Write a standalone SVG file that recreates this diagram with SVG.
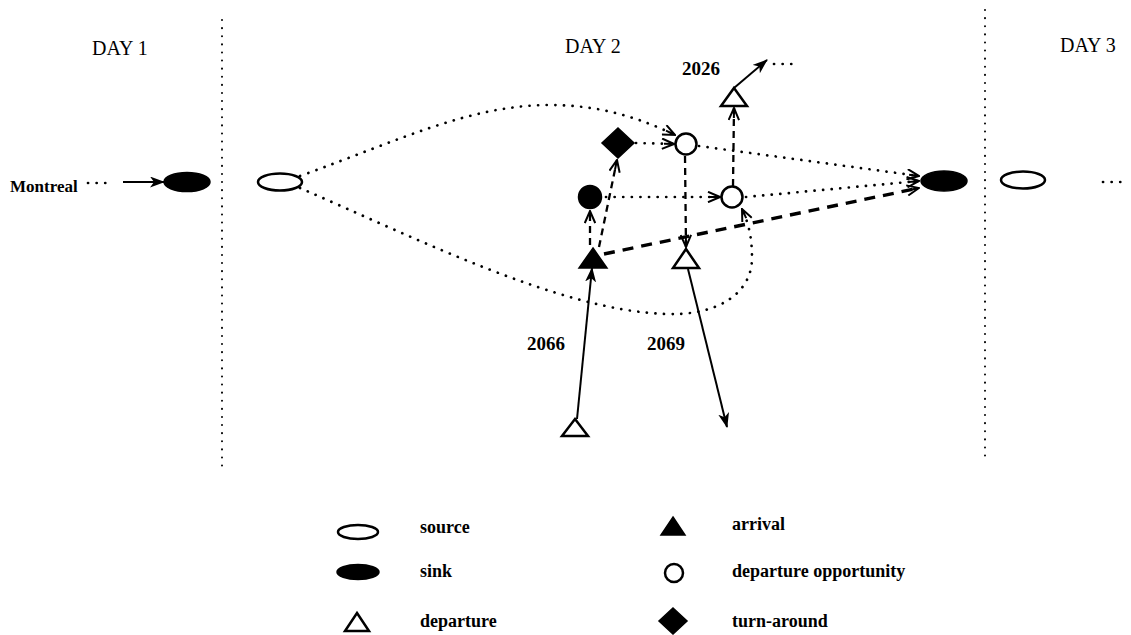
<svg xmlns="http://www.w3.org/2000/svg" width="1131" height="635" viewBox="0 0 1131 635">
  <style>
    .bg { fill: #ffffff; }
    .day { font-family: "Liberation Serif", "DejaVu Serif", serif; font-size: 20px; fill: #000; }
    .lbl { font-family: "Liberation Serif", "DejaVu Serif", serif; font-size: 19px; font-weight: bold; fill: #000; }
    .leg { font-family: "Liberation Serif", "DejaVu Serif", serif; font-size: 18px; font-weight: bold; fill: #000; }
    .city { font-family: "Liberation Serif", "DejaVu Serif", serif; font-size: 17px; font-weight: bold; fill: #000; }
    .open { fill: #fff; stroke: #000; stroke-width: 2.5; }
    .fill { fill: #000; stroke: #000; stroke-width: 1.5; }
    .divider { fill: none; stroke: #000; stroke-width: 2; stroke-linecap: round; stroke-dasharray: 0.1 8; }
    .dot { fill: none; stroke: #000; stroke-width: 2.7; stroke-linecap: round; stroke-dasharray: 0.1 8.5; }
    .dash { fill: none; stroke: #000; stroke-width: 2.3; stroke-dasharray: 7 5; }
    .bold-dash { fill: none; stroke: #000; stroke-width: 3.4; stroke-dasharray: 11 8; }
    .solid { fill: none; stroke: #000; stroke-width: 2; }
  </style>
  <defs>
    <marker id="vee" viewBox="0 0 14 12" refX="13" refY="6" markerWidth="14" markerHeight="12" markerUnits="userSpaceOnUse" orient="auto">
      <path d="M1,0.8 L13,6 L1,11.2 M3,6 L13,6" fill="none" stroke="#000" stroke-width="2"/>
    </marker>
    <marker id="barb" viewBox="0 0 15 11" refX="14" refY="5.5" markerWidth="15" markerHeight="11" markerUnits="userSpaceOnUse" orient="auto">
      <path d="M0,0 L15,5.5 L0,11 L4,5.5 Z" fill="#000"/>
    </marker>
  </defs>

  <rect class="bg" x="0" y="0" width="1131" height="635"/>

  <!-- day boundaries -->
  <g id="dividers">
    <line class="divider" x1="222" y1="20" x2="222" y2="470"/>
    <line class="divider" x1="985" y1="10" x2="985" y2="458"/>
  </g>

  <!-- day headings -->
  <g id="headings">
    <text class="day" x="92" y="55">DAY 1</text>
    <text class="day" x="565" y="53">DAY 2</text>
    <text class="day" x="1060" y="52">DAY 3</text>
  </g>

  <!-- connectors -->
  <g id="connectors">
    <!-- Montreal continuation into day 1 sink -->
    <line class="dot" x1="88" y1="183" x2="112" y2="183"/>
    <line class="solid" x1="123" y1="182" x2="164" y2="182" marker-end="url(#barb)"/>

    <!-- source to departure opportunities -->
    <path class="dot" d="M300,176 C400,140 470,105 550,105 C600,105 640,118 675,135" marker-end="url(#vee)"/>
    <path class="dot" d="M300,188 C420,240 560,310 665,314 C720,316 752,292 752,258 C752,236 748,222 742,209" marker-end="url(#vee)"/>

    <!-- turn-around / station node to departure opportunities -->
    <line class="dot" x1="636" y1="143" x2="674" y2="144" marker-end="url(#vee)"/>
    <line class="dot" x1="606" y1="197" x2="720" y2="197" marker-end="url(#vee)"/>

    <!-- departure opportunities and arrival to day 2 sink -->
    <line class="dot" x1="699" y1="146" x2="919" y2="176" marker-end="url(#vee)"/>
    <line class="dot" x1="746" y1="197" x2="919" y2="181" marker-end="url(#vee)"/>
    <line class="bold-dash" x1="604" y1="254" x2="919" y2="188" marker-end="url(#vee)"/>

    <!-- arrival to turn-around and to station node -->
    <line class="dash" x1="599" y1="247" x2="617" y2="160" marker-end="url(#vee)"/>
    <line class="dash" x1="590" y1="245" x2="590" y2="211" marker-end="url(#vee)"/>

    <!-- departure opportunities to departures -->
    <line class="dash" x1="685" y1="156" x2="686" y2="247" marker-end="url(#vee)"/>
    <line class="dash" x1="733" y1="186" x2="734" y2="108" marker-end="url(#vee)"/>

    <!-- flights -->
    <line class="solid" x1="734" y1="88" x2="767" y2="60" marker-end="url(#barb)"/>
    <line class="dot" x1="774" y1="64" x2="798" y2="64"/>
    <line class="solid" x1="577" y1="419" x2="592" y2="268" marker-end="url(#barb)"/>
    <line class="solid" x1="688" y1="269" x2="727" y2="427" marker-end="url(#barb)"/>

    <!-- continuation after day 3 source -->
    <line class="dot" x1="1103" y1="182" x2="1127" y2="182"/>
  </g>

  <!-- flight labels -->
  <g id="flight-labels">
    <text class="lbl" x="682" y="75">2026</text>
    <text class="lbl" x="527" y="350">2066</text>
    <text class="lbl" x="647" y="350">2069</text>
  </g>

  <!-- nodes -->
  <g id="montreal">
    <text class="city" x="10" y="192">Montreal</text>
  </g>
  <g id="sink-day1">
    <ellipse class="fill" cx="187" cy="182" rx="23" ry="9.5"/>
  </g>
  <g id="source-day2">
    <ellipse class="open" cx="280" cy="182" rx="22" ry="8.5"/>
  </g>
  <g id="turnaround">
    <polygon class="fill" points="618,128 634,143 618,158 602,143"/>
  </g>
  <g id="station-node">
    <circle class="fill" cx="590" cy="197" r="11.5"/>
  </g>
  <g id="arrival-2066">
    <polygon class="fill" points="593,248 607,268 579,268"/>
  </g>
  <g id="opportunity-1">
    <circle class="open" cx="686" cy="144" r="10.5"/>
  </g>
  <g id="opportunity-2">
    <circle class="open" cx="732" cy="197" r="10.5"/>
  </g>
  <g id="departure-2069">
    <polygon class="open" points="686,249 699,268 673,268"/>
  </g>
  <g id="departure-2026">
    <polygon class="open" points="734,88 747,106 721,106"/>
  </g>
  <g id="departure-2066">
    <polygon class="open" points="575,419 588,436 562,436"/>
  </g>
  <g id="sink-day2">
    <ellipse class="fill" cx="944" cy="181" rx="23" ry="10"/>
  </g>
  <g id="source-day3">
    <ellipse class="open" cx="1023" cy="180" rx="22" ry="8.5"/>
  </g>

  <!-- legend -->
  <g id="legend">
    <ellipse class="open" cx="358" cy="532" rx="20" ry="7"/>
    <text class="leg" x="420" y="533">source</text>
    <ellipse class="fill" cx="358" cy="572" rx="21" ry="7.5"/>
    <text class="leg" x="420" y="577">sink</text>
    <polygon class="open" points="357,613 369,631 345,631"/>
    <text class="leg" x="420" y="627">departure</text>
    <polygon class="fill" points="673,517 685,535 661,535"/>
    <text class="leg" x="732" y="530">arrival</text>
    <circle class="open" cx="674" cy="573" r="9"/>
    <text class="leg" x="732" y="577">departure opportunity</text>
    <polygon class="fill" points="673,608 687,621 673,634 659,621"/>
    <text class="leg" x="732" y="627">turn-around</text>
  </g>
</svg>
